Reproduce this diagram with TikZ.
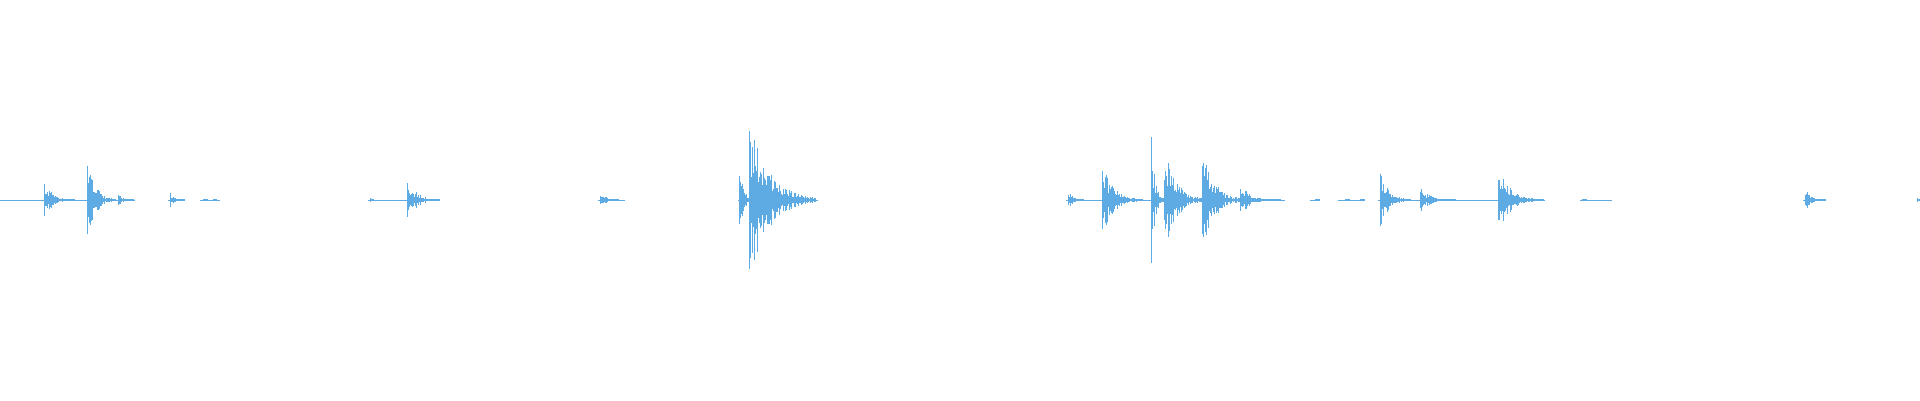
\documentclass[tikz,border=0pt]{standalone}
\definecolor{wavecol}{RGB}{94,170,226}
\tikzset{wave/.style={draw=wavecol,line width=0.8pt}}
% decaying burst: start, half amplitude, length
\newcommand{\burst}[3]{%
  \foreach \i in {0,...,#3} {
    \pgfmathsetmacro\a{max(0.6,#2*exp(-3.5*\i/#3)*(0.3+0.7*rnd))}
    \draw[wave] (#1+\i,200-\a) -- (#1+\i,200+\a);
  }}
\begin{document}
\begin{tikzpicture}[x=1pt,y=1pt,yscale=-1]
\useasboundingbox (0,0) rectangle (1920,400);
\pgfmathsetseed{7}
% baseline pieces
\foreach \s/\e in {0/135,168/185,200/220,368/436,598/625,738/818,1066/1285,1310/1320,1338/1365,1378/1545,1580/1612,1803/1825}
  \draw[wave,line width=0.6pt] (\s,200) -- (\e,200);
% bursts
\burst{44}{18}{30}
\burst{87}{40}{28}
\burst{118}{7}{15}
\burst{170}{8}{14}
\burst{203}{2}{4}
\burst{213}{2}{3}
\burst{370}{4}{3}
\burst{407}{22}{32}
\burst{600}{10}{18}
\burst{739}{75}{10}
\burst{749}{82}{66}
\burst{1068}{12}{15}
\burst{1102}{36}{40}
\burst{1151}{66}{12}
\burst{1164}{58}{38}
\burst{1202}{50}{42}
\burst{1240}{15}{40}
\burst{1315}{1.5}{4}
\burst{1345}{1.5}{4}
\burst{1360}{1.5}{4}
\burst{1380}{28}{30}
\burst{1420}{13}{35}
\burst{1498}{32}{45}
\burst{1582}{1.5}{4}
\burst{1805}{11}{20}
\burst{1917}{5}{2}
\end{tikzpicture}
\end{document}
